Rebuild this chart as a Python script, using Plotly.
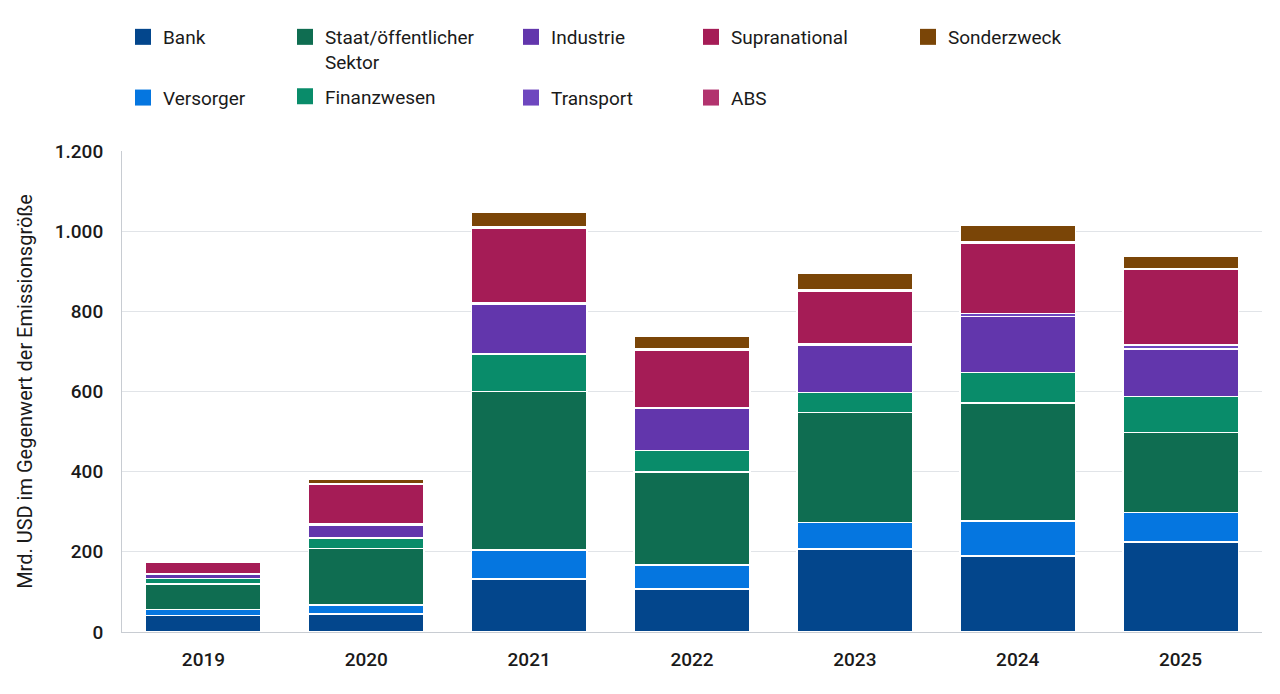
import plotly.graph_objects as go

years = ["2019", "2020", "2021", "2022", "2023", "2024", "2025"]

bank = [41, 45, 132, 107, 207, 190, 225]
versorger = [15, 22, 73, 60, 66, 87, 73]
staat = [64, 141, 395, 232, 275, 294, 200]
finanzwesen = [13, 26, 93, 54, 50, 76, 89]
industrie = [10, 33, 125, 104, 118, 140, 119]
transport = [2, 2, 3, 3, 4, 8, 10]
supranational = [30, 100, 187, 143, 131, 176, 190]
abs_ = [1, 2, 3, 3, 4, 3, 1]
sonderzweck = [2, 9, 36, 31, 39, 40, 31]

series_names = ["Bank", "Versorger", "Staat/öffentlicher<br>Sektor", "Finanzwesen",
                "Industrie", "Transport", "Supranational", "ABS", "Sonderzweck"]
series_values = [bank, versorger, staat, finanzwesen, industrie, transport,
                 supranational, abs_, sonderzweck]
colors = ["#03468C", "#0576E0", "#0F6D51", "#098C6A", "#6236AC", "#6E47BF",
          "#A51C56", "#B2336E", "#7A4507"]
legend_ids = ["legend", "legend", "legend2", "legend2", "legend3", "legend3",
              "legend4", "legend4", "legend5"]

FONT = "Roboto, Arial, sans-serif"

fig = go.Figure()
for name, vals, col in zip(series_names, series_values, colors):
    fig.add_trace(go.Bar(
        x=years, y=vals, name=name.replace("<br>", " "),
        marker=dict(color=col, line=dict(color="white", width=1.5)),
        showlegend=False,
    ))

for i, (name, col, lg) in enumerate(zip(series_names, colors, legend_ids)):
    fig.add_trace(go.Scatter(
        x=[None], y=[None], mode="markers", name=name,
        marker=dict(symbol="square", size=17, color=col),
        legend=lg, legendgroup=f"g{i}", showlegend=True,
    ))

# layout geometry in pixels
W, H = 1280, 694
L, R, T, B = 122, 18, 151, 62
pw, ph = W - L - R, H - T - B

def px_x(x):
    return (x - L) / pw

def px_y(y):
    return (H - B - y) / ph

leg_common = dict(
    orientation="v", xanchor="left", yanchor="top",
    font=dict(family=FONT, size=19, color="#1a1a1a"),
    bgcolor="rgba(0,0,0,0)", valign="top", itemsizing="trace",
)
col_x = [123, 285, 511, 691, 908]
leg_top = 18
fig.update_layout(
    legend=dict(leg_common, x=px_x(col_x[0]), y=px_y(leg_top), tracegroupgap=33),
    legend2=dict(leg_common, x=px_x(col_x[1]), y=px_y(leg_top), tracegroupgap=7),
    legend3=dict(leg_common, x=px_x(col_x[2]), y=px_y(leg_top), tracegroupgap=33),
    legend4=dict(leg_common, x=px_x(col_x[3]), y=px_y(leg_top), tracegroupgap=33),
    legend5=dict(leg_common, x=px_x(col_x[4]), y=px_y(leg_top), tracegroupgap=33),
)

fig.update_layout(
    barmode="stack",
    bargap=0.29,
    width=W, height=H,
    margin=dict(l=L, r=R, t=T, b=B),
    paper_bgcolor="white",
    plot_bgcolor="white",
    separators=",.",
    font=dict(family=FONT, size=19, color="#1a1a1a"),
    xaxis=dict(
        type="category",
        showgrid=False,
        showline=True, linecolor="#c8ccd2", linewidth=1,
        tickfont=dict(family=FONT, size=19, color="#1a1a1a", weight=500),
        ticks="", ticklabelstandoff=10,
    ),
    yaxis=dict(
        range=[0, 1200],
        tickvals=[0, 200, 400, 600, 800, 1000, 1200],
        tickformat=",d",
        separatethousands=True,
        showgrid=True, gridcolor="#e1e4e8", gridwidth=1,
        showline=True, linecolor="#c8ccd2", linewidth=1,
        zeroline=False,
        tickfont=dict(family=FONT, size=19, color="#1a1a1a", weight=500),
        ticks="", ticklabelstandoff=14,
        title=dict(text="Mrd. USD im Gegenwert der Emissionsgröße",
                   font=dict(family=FONT, size=20, color="#1a1a1a"),
                   standoff=16),
    ),
)

fig.write_html("out.html")
